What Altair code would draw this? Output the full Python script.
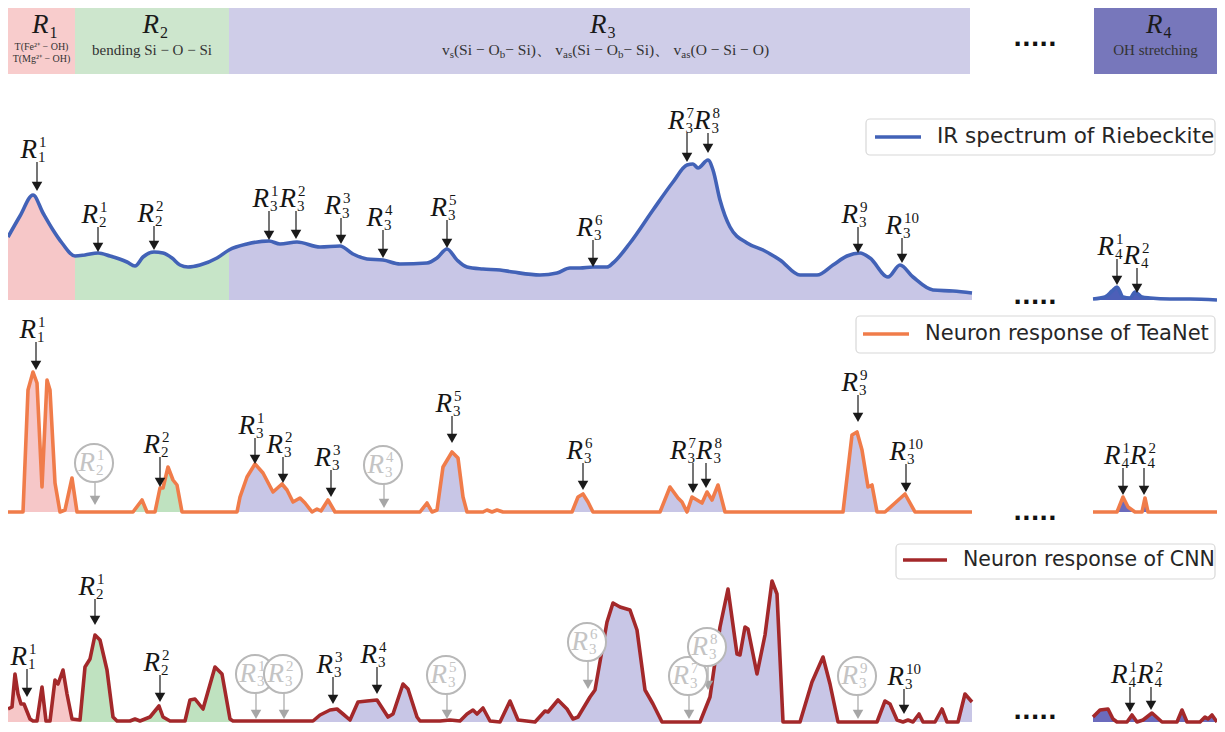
import altair as alt
import pandas as pd

SERIF = "Liberation Serif"
SANS = "DejaVu Sans"
W = 1209
XS = alt.Scale(domain=[8, 1217], nice=False, zero=False)

# ------------------------------------------------------------------ data
region_names = ["R1", "R2", "R3", "R4"]
region_index = ["1", "2", "3", "4"]
region_start = [8, 75, 229, 1094]
region_end = [75, 229, 970, 1217]

r1_notes = ["T(Fe²⁺ − OH)", "T(Mg²⁺ − OH)"]
r2_note = "bending Si − O − Si"
r4_note = "OH stretching"
r3_note_parts = ["v", "s", "(Si − O", "b", " − Si)、", "v", "as", "(Si − O", "b",
                 " − Si)、", "v", "as", "(O − Si − O)"]
r3_note_is_sub = [False, True, False, True, False, False, True, False, True,
                  False, False, True, False]

# IR spectrum (position, intensity)
ir_x = [8, 20, 33, 43, 53, 62, 75, 85, 98, 110, 127, 135, 143, 154, 163, 172, 180, 188, 200, 217,
        229, 247, 269, 280, 297, 320, 340, 353, 367, 383, 400, 427, 437, 447, 457, 467, 483, 500,
        513, 540, 557, 570, 580, 593, 607, 613, 630, 653, 673, 687, 693, 698, 708, 713, 720, 730,
        747, 763, 780, 800, 817, 833, 847, 860, 870, 888, 900, 913, 933, 953, 972]
ir_y = [63, 84, 105, 87, 70, 57, 44, 45, 47, 44, 38, 34, 43, 48, 47, 42, 35, 33, 35, 42,
        50, 56, 59, 56, 58, 53, 54, 46, 41, 40, 36, 37, 42, 51, 40, 33, 31, 30,
        28, 25, 27, 32, 32, 33, 33, 37, 57, 90, 118, 135, 136, 132, 140, 130, 100, 73,
        57, 50, 40, 25, 25, 35, 44, 47, 42, 23, 35, 23, 10, 9, 7]
ir4_x = [1093, 1105, 1112, 1117, 1123, 1130, 1135, 1142, 1150, 1170, 1190, 1217]
ir4_y = [1, 3, 9, 13, 3, 2, 8, 3, 2, 1, 1, 0]

# TeaNet neuron response
tea_x = [8, 23, 28, 33, 37, 42, 47, 50, 55, 60, 65, 72, 77, 133, 142, 147, 155, 160, 163, 168,
         173, 177, 182, 237, 240, 247, 255, 263, 273, 282, 287, 293, 300, 305, 312, 317, 321, 328,
         335, 420, 427, 432, 437, 443, 452, 458, 463, 467, 483, 487, 492, 497, 503, 572, 578, 583,
         588, 593, 660, 670, 678, 682, 687, 692, 702, 707, 712, 718, 725, 843, 852, 857, 862, 868,
         872, 877, 885, 895, 905, 915, 972]
tea_y = [0, 0, 122, 140, 129, 25, 132, 122, 29, 0, 2, 34, 0, 0, 12, 0, 0, 24, 24, 45,
         32, 27, 0, 0, 15, 35, 48, 39, 20, 28, 22, 10, 14, 9, 0, 3, 1, 12,
         0, 0, 9, 0, 2, 45, 60, 54, 15, 0, 0, 2, 0, 2, 0, 0, 15, 18,
         10, 0, 0, 25, 14, 10, 0, 15, 9, 20, 12, 27, 0, 0, 77, 80, 62, 25,
         27, 0, 0, 9, 18, 0, 0]
tea4_x = [1093, 1117, 1123, 1128, 1135, 1142, 1145, 1148, 1217]
tea4_y = [0, 0, 15, 5, 0, 0, 14, 0, 0]

# CNN neuron response
cnn_x = [8, 12, 15, 18, 21, 24, 30, 33, 37, 42, 46, 50, 55, 58, 63, 67, 72, 80, 85, 90,
         95, 100, 107, 113, 117, 130, 135, 140, 145, 150, 159, 163, 170, 185, 190, 195, 203, 215,
         222, 230, 233, 313, 320, 330, 337, 343, 350, 358, 367, 377, 388, 393, 403, 408, 417, 420,
         440, 450, 460, 467, 473, 477, 483, 490, 500, 510, 518, 535, 545, 548, 558, 567, 573, 578,
         590, 595, 607, 613, 620, 630, 637, 645, 653, 662, 700, 710, 720, 728, 737, 740, 745, 748,
         757, 765, 772, 777, 783, 800, 812, 823, 830, 838, 877, 885, 890, 897, 903, 908, 913, 919,
         923, 935, 942, 947, 958, 965, 972]
cnn_y = [13, 15, 48, 28, 18, 18, 3, 1, 1, 35, 1, 1, 42, 38, 52, 28, 3, 2, 55, 63,
         87, 82, 52, 5, 1, 1, 3, 1, 3, 5, 16, 5, 1, 1, 22, 23, 13, 55,
         48, 3, 1, 1, 7, 12, 13, 8, 2, 20, 21, 22, 5, 8, 38, 33, 5, 1,
         1, 2, 1, 8, 12, 8, 14, 1, 0, 21, 2, 0, 11, 10, 22, 13, 3, 5,
         25, 32, 100, 119, 115, 112, 92, 32, 18, 0, 0, 25, 95, 133, 68, 67, 95, 93,
         48, 87, 141, 128, 0, 0, 40, 65, 38, 0, 0, 21, 18, 2, 0, 2, 0, 8,
         0, 0, 13, 0, 0, 28, 20]
cnn4_x = [1093, 1100, 1108, 1113, 1117, 1127, 1132, 1137, 1143, 1152, 1162, 1177, 1182, 1187,
          1200, 1205, 1208, 1212, 1217]
cnn4_y = [5, 12, 13, 3, 0, 0, 7, 0, 2, 9, 0, 0, 12, 0, 0, 5, 3, 7, 0]

# annotations: peak position, region index, peak index, arrow tip, arrow top
ir_ann_x = [37, 98, 154, 269, 296, 341, 383, 447, 593, 687, 708, 858, 902, 1117, 1137]
ir_ann_sub = ["1", "2", "2", "3", "3", "3", "3", "3", "3", "3", "3", "3", "3", "4", "4"]
ir_ann_sup = ["1", "1", "2", "1", "2", "3", "4", "5", "6", "7", "8", "9", "10", "1", "2"]
ir_ann_tip = [109, 48, 50, 60, 61, 56, 42, 52, 33, 138, 147, 47, 37, 15, 7]
ir_ann_top = [138, 73, 74, 89, 89, 82, 70, 80, 60, 167, 167, 73, 62, 41, 32]

tea_ann_x = [36, 160, 255, 283, 331, 452, 583, 693, 706, 858, 906, 1123, 1144]
tea_ann_sub = ["1", "2", "3", "3", "3", "3", "3", "3", "3", "3", "3", "4", "4"]
tea_ann_sup = ["1", "2", "1", "2", "3", "5", "6", "7", "8", "9", "10", "1", "2"]
tea_ann_tip = [142, 25, 48, 29, 15, 69, 22, 19, 24, 90, 20, 17, 17]
tea_ann_top = [170, 55, 74, 55, 42, 96, 49, 49, 49, 117, 48, 44, 44]
tea_miss_x = [95, 384]
tea_miss_sub = ["2", "3"]
tea_miss_sup = ["1", "4"]
tea_miss_tip = [7, 4]
tea_miss_top = [31, 29]

cnn_ann_x = [27, 95, 160, 333, 377, 904, 1130, 1151]
cnn_ann_sub = ["1", "2", "2", "3", "3", "3", "4", "4"]
cnn_ann_sup = ["1", "1", "2", "3", "4", "10", "1", "2"]
cnn_ann_tip = [25, 97, 20, 18, 28, 8, 10, 12]
cnn_ann_top = [53, 123, 47, 45, 55, 33, 35, 35]
cnn_miss_x = [256, 284, 447, 588, 689, 708, 858]
cnn_miss_sub = ["3", "3", "3", "3", "3", "3", "3"]
cnn_miss_sup = ["1", "2", "5", "6", "7", "8", "9"]
cnn_miss_tip = [3, 3, 3, 33, 3, 32, 3]
cnn_miss_top = [30, 30, 29, 62, 28, 57, 28]

legend_labels = ["IR spectrum of Riebeckite", "Neuron response of TeaNet", "Neuron response of CNN"]

# ------------------------------------------------------------------ styles
HEADER_COLORS = ["#f8cccc", "#cde6cd", "#cfcde8", "#7777bb"]
IR_FILLS = ["#f6c7c8", "#c7e5c8", "#c8c6e6", "#4d5fb8"]
NN_FILLS = ["#f6c7c8", "#bfe2c0", "#c8c6e6", "#6b6bbd"]
IR_COLOR = "#4262b7"
TEA_COLOR = "#f07c4a"
CNN_COLOR = "#a3282a"
GAP_X = 1035  # where the "....." break mark sits
R_FS = 27
IDX_FS = 15


def xenc(field="x"):
    return alt.X(f"{field}:Q", scale=XS, axis=None)


def yenc(field, dom):
    return alt.Y(f"{field}:Q", scale=alt.Scale(domain=dom, nice=False, zero=False), axis=None)


def curve_frames(segments):
    area_rows, line_rows = [], []
    for seg, (xs, ys) in enumerate(segments):
        regs = []
        for x in xs:
            if seg == 1:
                regs.append("R4")
            elif x < region_start[1]:
                regs.append("R1")
            elif x < region_start[2]:
                regs.append("R2")
            else:
                regs.append("R3")
        for i, (x, y, r) in enumerate(zip(xs, ys, regs)):
            line_rows.append(dict(x=x, v=y, seg=seg))
            area_rows.append(dict(x=x, v=y, region=r, seg=seg))
            if i + 1 < len(xs) and regs[i + 1] != r:
                area_rows.append(dict(x=xs[i + 1], v=ys[i + 1], region=r, seg=seg))
    return pd.DataFrame(area_rows), pd.DataFrame(line_rows)


def label_shifts(xs, min_gap=26):
    shifts = [0.0] * len(xs)
    order = sorted(range(len(xs)), key=lambda i: xs[i])
    for a, b in zip(order, order[1:]):
        gap = xs[b] - xs[a]
        if gap < min_gap:
            d = (min_gap - gap) / 2
            shifts[a] -= d
            shifts[b] += d
    return shifts


def ann_frame(xs, subs, sups, tips, tops, spread=True):
    sh = label_shifts(xs) if spread else [0.0] * len(xs)
    return pd.DataFrame({"x": xs, "lx": [x + s for x, s in zip(xs, sh)], "sub": subs,
                         "sup": sups, "tip": tips, "top": tops})


def annotation_layers(df, ydom, circled):
    col_line = "#a6a6a6" if circled else "#1a1a1a"
    col_text = "#c4c4c4" if circled else "#151515"
    lift = 18 if circled else 12
    base = alt.Chart(df).transform_calculate(
        ry=f"datum.top + {lift}",
        sy=f"datum.top + {lift + 8}",
        by=f"datum.top + {lift - 7}",
        head="datum.tip + 4.6",
        stem="datum.tip + 7",
        cx="datum.x - 1",
    )
    layers = [
        base.mark_rule(color=col_line, strokeWidth=1.2).encode(
            x=xenc(), y=yenc("top", ydom), y2="stem:Q"),
        base.mark_point(shape="triangle-down", filled=True, size=110, color=col_line,
                        opacity=1).encode(x=xenc(), y=yenc("head", ydom)),
    ]
    if circled:
        layers.append(base.mark_point(shape="circle", filled=True, fill="white", stroke="#b8b8b8",
                                      strokeWidth=2, size=1450, opacity=1, fillOpacity=1,
                                      strokeOpacity=1).encode(x=xenc("cx"), y=yenc("ry", ydom)))
    layers += [
        base.mark_text(text="R", font=SERIF, fontStyle="italic", fontSize=R_FS, align="right",
                       baseline="middle", dx=0, color=col_text).encode(
            x=xenc("lx"), y=yenc("ry", ydom)),
        base.mark_text(font=SERIF, fontSize=IDX_FS, align="left", baseline="middle", dx=2,
                       color=col_text).encode(x=xenc("lx"), y=yenc("sy", ydom), text="sup:N"),
        base.mark_text(font=SERIF, fontSize=IDX_FS, align="left", baseline="middle", dx=1,
                       color=col_text).encode(x=xenc("lx"), y=yenc("by", ydom), text="sub:N"),
    ]
    return layers


def legend_layers(text, color, box, line, tpos, fs):
    c = alt.Chart(pd.DataFrame({"label": [text]}))
    return [
        c.mark_rect(fill="white", fillOpacity=0.9, stroke="#d8d8d8", strokeWidth=1.2,
                    cornerRadius=4).encode(x=alt.value(box[0]), x2=alt.value(box[1]),
                                           y=alt.value(box[2]), y2=alt.value(box[3])),
        c.mark_rule(color=color, strokeWidth=3.5).encode(
            x=alt.value(line[0]), x2=alt.value(line[1]), y=alt.value(line[2])),
        c.mark_text(font=SANS, fontSize=fs, align="left", baseline="middle",
                    color="#262626").encode(x=alt.value(tpos[0]), y=alt.value(tpos[1]),
                                            text="label:N"),
    ]


def dots_panel_layer(ydom, yv):
    c = alt.Chart(pd.DataFrame({"t": ["....."], "x": [GAP_X], "v": [yv]}))
    return c.mark_text(font=SANS, fontWeight="bold", fontSize=23, align="center",
                       baseline="alphabetic", color="#111111").encode(
        x=xenc(), y=yenc("v", ydom), text="t:N")


def panel(height, ydom, segments, fills, color, interp, hits, misses, legend, dots_v):
    adf, ldf = curve_frames(segments)
    area = alt.Chart(adf).transform_calculate(base="0").mark_area(
        interpolate=interp, opacity=1, clip=True).encode(
        x=xenc(), y=yenc("v", ydom), y2="base:Q",
        fill=alt.Fill("region:N", scale=alt.Scale(domain=region_names, range=fills), legend=None),
        detail="seg:N")
    line = alt.Chart(ldf).mark_line(interpolate=interp, color=color, strokeWidth=3.6,
                                    strokeJoin="round", strokeCap="butt", clip=True).encode(
        x=xenc(), y=yenc("v", ydom), detail="seg:N")
    layers = [area, line, dots_panel_layer(ydom, dots_v)]
    if misses is not None:
        layers += annotation_layers(misses, ydom, True)
    layers += annotation_layers(hits, ydom, False)
    layers += legend_layers(*legend)
    return alt.layer(*layers).properties(width=W, height=height)


# ------------------------------------------------------------------ header band
reg_df = pd.DataFrame({"name": region_names, "idx": region_index,
                       "start": region_start, "end": region_end})
hdr = alt.Chart(reg_df).transform_calculate(mid="(datum.start + datum.end) / 2")
header_layers = [
    hdr.mark_rect().encode(
        x=xenc("start"), x2="end:Q", y=alt.value(0), y2=alt.value(66),
        fill=alt.Fill("name:N", scale=alt.Scale(domain=region_names, range=HEADER_COLORS),
                      legend=None)),
    hdr.mark_text(text="R", font=SERIF, fontStyle="italic", fontSize=27, align="right",
                  baseline="middle", dx=7, color="#1a1a1a").encode(x=xenc("mid"), y=alt.value(17)),
    hdr.mark_text(font=SERIF, fontSize=16, align="left", baseline="middle", dx=8,
                  color="#1a1a1a").encode(x=xenc("mid"), y=alt.value(25), text="idx:N"),
]
mids = [(s + e) / 2 for s, e in zip(region_start, region_end)]
for k, note in enumerate(r1_notes):
    header_layers.append(
        alt.Chart(pd.DataFrame({"t": [note], "x": [mids[0]]})).mark_text(
            font=SERIF, fontSize=10, align="center", baseline="middle", color="#333333").encode(
            x=xenc(), y=alt.value(39 + 12 * k), text="t:N"))
for mid, note in [(mids[1], r2_note), (mids[3], r4_note)]:
    header_layers.append(
        alt.Chart(pd.DataFrame({"t": [note], "x": [mid]})).mark_text(
            font=SERIF, fontSize=15, align="center", baseline="middle", color="#333333").encode(
            x=xenc(), y=alt.value(42), text="t:N"))

# R3 note: lay out runs of normal and subscript text
TW = {"v": 0.5, "s": 0.389, "a": 0.444, "b": 0.5, "(": 0.333, ")": 0.333, "S": 0.556,
      "i": 0.278, "O": 0.722, " ": 0.25, "−": 0.564, "、": 1.0}
MAIN_FS, SUB_FS = 15.5, 11
widths = [sum(TW.get(ch, 0.5) for ch in t) * (SUB_FS if s else MAIN_FS)
          for t, s in zip(r3_note_parts, r3_note_is_sub)]
start = mids[2] + 6 - sum(widths) / 2
xs_runs = []
for w in widths:
    xs_runs.append(start)
    start += w
runs_main = pd.DataFrame({"t": [t for t, s in zip(r3_note_parts, r3_note_is_sub) if not s],
                          "x": [x for x, s in zip(xs_runs, r3_note_is_sub) if not s]})
runs_sub = pd.DataFrame({"t": [t for t, s in zip(r3_note_parts, r3_note_is_sub) if s],
                         "x": [x for x, s in zip(xs_runs, r3_note_is_sub) if s]})
header_layers.append(
    alt.Chart(runs_main).mark_text(
        font=SERIF, fontSize=MAIN_FS, align="left", baseline="middle", color="#333333").encode(
        x=xenc(), y=alt.value(42), text="t:N"))
header_layers.append(
    alt.Chart(runs_sub).mark_text(
        font=SERIF, fontSize=SUB_FS, align="left", baseline="middle", color="#333333").encode(
        x=xenc(), y=alt.value(47), text="t:N"))
header_layers.append(
    alt.Chart(pd.DataFrame({"t": ["....."], "x": [GAP_X]})).mark_text(
        font=SANS, fontWeight="bold", fontSize=23, align="center", baseline="alphabetic",
        color="#111111").encode(x=xenc(), y=alt.value(38), text="t:N"))
header = alt.layer(*header_layers).properties(width=W, height=80)

# ------------------------------------------------------------------ panels
p_ir = panel(217, [-5, 212], [(ir_x, ir_y), (ir4_x, ir4_y)], IR_FILLS, IR_COLOR, "monotone",
             ann_frame(ir_ann_x, ir_ann_sub, ir_ann_sup, ir_ann_tip, ir_ann_top), None,
             (legend_labels[0], IR_COLOR, (858, 1207, 31, 67), (867, 913, 49), (929, 49), 21.5), -4)
p_tea = panel(215, [-8, 207], [(tea_x, tea_y), (tea4_x, tea4_y)], NN_FILLS, TEA_COLOR, "linear",
              ann_frame(tea_ann_x, tea_ann_sub, tea_ann_sup, tea_ann_tip, tea_ann_top),
              ann_frame(tea_miss_x, tea_miss_sub, tea_miss_sup, tea_miss_tip, tea_miss_top, False),
              (legend_labels[1], TEA_COLOR, (848, 1207, 11, 48), (855, 901, 29), (917, 29), 21), -8)
p_cnn = panel(204, [-2, 202], [(cnn_x, cnn_y), (cnn4_x, cnn4_y)], NN_FILLS, CNN_COLOR, "linear",
              ann_frame(cnn_ann_x, cnn_ann_sub, cnn_ann_sup, cnn_ann_tip, cnn_ann_top),
              ann_frame(cnn_miss_x, cnn_miss_sub, cnn_miss_sup, cnn_miss_tip, cnn_miss_top, False),
              (legend_labels[2], CNN_COLOR, (888, 1207, 24, 59), (895, 939, 40), (955, 40), 20.5), 3)

chart = alt.vconcat(header, p_ir, p_tea, p_cnn, spacing=0, bounds="flush", padding=0,
                    background="white").resolve_scale(
    fill="independent", y="independent", x="independent"
).configure_view(stroke=None)

chart.save("out.html", embed_options={"renderer": "svg", "actions": False})
